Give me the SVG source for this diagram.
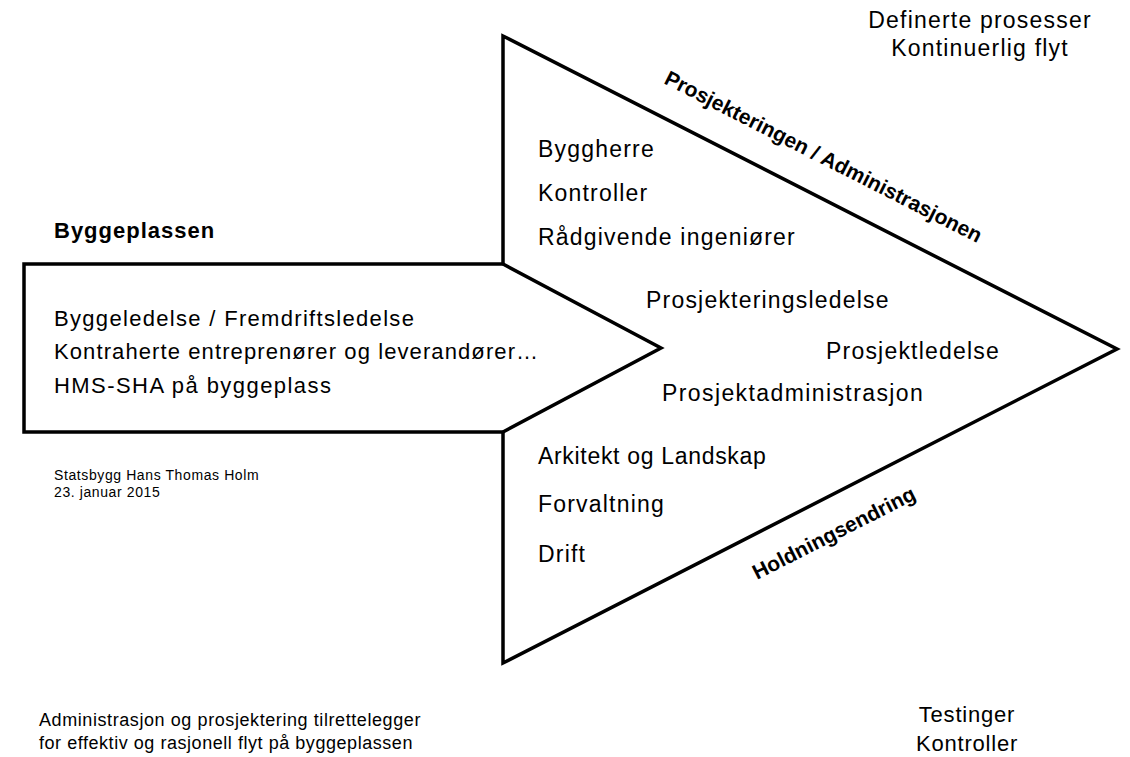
<svg xmlns="http://www.w3.org/2000/svg" width="1130" height="757" viewBox="0 0 1130 757">
<style>
text{font-family:"Liberation Sans",Arial,sans-serif;fill:#000}
.big{font-size:23px;letter-spacing:1.2px}
.box{font-size:22px;letter-spacing:1.1px}
.edge{font-size:21px;font-weight:bold}
.head{font-size:22px;font-weight:bold;letter-spacing:1px}
.small{font-size:14px;letter-spacing:0.6px}
.note{font-size:18px;letter-spacing:0.6px}
.foot{font-size:22px;letter-spacing:0.8px}
.mid{text-anchor:middle}
.outline{fill:none;stroke:#000;stroke-width:3.5;stroke-linejoin:miter}
</style>
<rect width="1130" height="757" fill="#fff"/>
<g id="shapes">
<path class="outline" d="M503,36 L1117,349 L503,663 L503,432 L24,432 L24,264 L503,264 Z"/>
<path class="outline" d="M503,264 L661,348 L503,432"/>
</g>
<g id="top-right">
<text class="big mid" x="980" y="28">Definerte prosesser</text>
<text class="big mid" x="980" y="56">Kontinuerlig flyt</text>
</g>
<g id="edge-labels">
<text class="edge" transform="translate(663,83) rotate(27)">Prosjekteringen / Administrasjonen</text>
<text class="edge" transform="translate(757,580) rotate(-26.9)">Holdningsendring</text>
</g>
<g id="byggeplassen">
<text class="head" x="54" y="238">Byggeplassen</text>
<text class="box" x="54" y="326" textLength="361" lengthAdjust="spacing">Byggeledelse / Fremdriftsledelse</text>
<text class="box" x="54" y="359">Kontraherte entreprenører og leverandører…</text>
<text class="box" x="54" y="393" textLength="278" lengthAdjust="spacing">HMS-SHA på byggeplass</text>
</g>
<g id="triangle-upper">
<text class="big" x="538" y="157">Byggherre</text>
<text class="big" x="538" y="201">Kontroller</text>
<text class="big" x="538" y="245">Rådgivende ingeniører</text>
</g>
<g id="triangle-middle">
<text class="big" x="646" y="308">Prosjekteringsledelse</text>
<text class="big" x="826" y="359">Prosjektledelse</text>
<text class="big" x="662" y="401" textLength="262" lengthAdjust="spacing">Prosjektadministrasjon</text>
</g>
<g id="triangle-lower">
<text class="big" x="538" y="464" textLength="229" lengthAdjust="spacing">Arkitekt og Landskap</text>
<text class="big" x="538" y="512">Forvaltning</text>
<text class="big" x="538" y="562">Drift</text>
</g>
<g id="author">
<text class="small" x="54" y="480">Statsbygg Hans Thomas Holm</text>
<text class="small" x="54" y="497">23. januar 2015</text>
</g>
<g id="footer-left">
<text class="note" x="39" y="726" textLength="382" lengthAdjust="spacing">Administrasjon og prosjektering tilrettelegger</text>
<text class="note" x="39" y="749" textLength="374" lengthAdjust="spacing">for effektiv og rasjonell flyt på byggeplassen</text>
</g>
<g id="footer-right">
<text class="foot mid" x="967" y="722">Testinger</text>
<text class="foot mid" x="967" y="751">Kontroller</text>
</g>
</svg>
